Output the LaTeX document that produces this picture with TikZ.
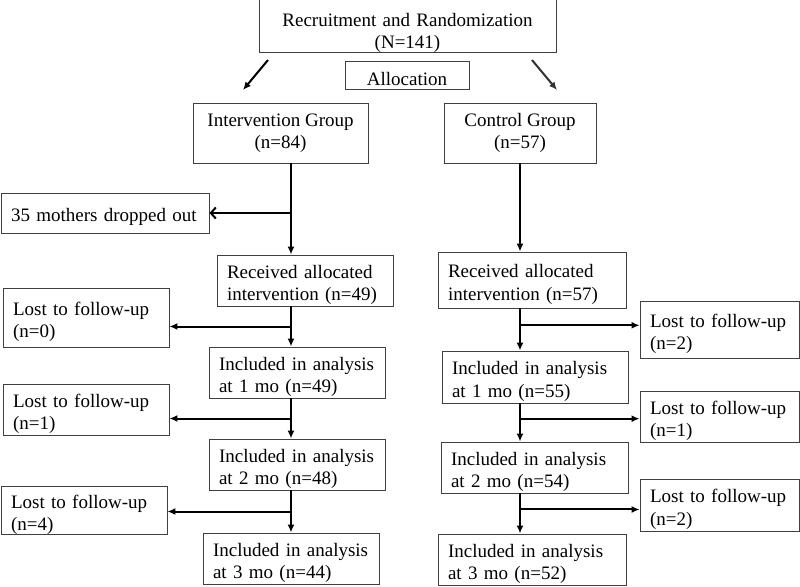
\documentclass[tikz,border=0pt]{standalone}
\usepackage{fontspec}
\setmainfont{Liberation Serif}
\usetikzlibrary{arrows.meta,calc}
\begin{document}
\begin{tikzpicture}[x=1pt,y=-1pt,
  box/.style={draw=black!75, line width=0.9pt, inner sep=0pt, font=\fontsize{19}{22.5}\selectfont,
    execute at begin node={\rule{0pt}{22pt}}},
  cbox/.style={box, align=center},
  lbox/.style={box, align=left, inner xsep=10pt},
  flow/.style={line width=2pt, -{Latex[length=8pt,width=7pt]}},
  dropflow/.style={line width=2pt, -{Straight Barb[length=5pt,width=11pt]}}]
  \useasboundingbox (0,0) rectangle (800,586);
  % top of the chart
  \node[cbox, text width=277pt, inner xsep=10pt, minimum height=50pt,
    execute at begin node={\rule{0pt}{27pt}}] (rand) at (407.5,26) {Recruitment and Randomization\\(N=141)};
  \node[cbox, minimum width=124pt, minimum height=28pt] (alloc) at (407,75) {Allocation};
  \node[cbox, minimum width=175pt, minimum height=60pt] (igrp) at (280.5,133) {Intervention Group\\(n=84)};
  \node[cbox, minimum width=152pt, minimum height=60pt] (cgrp) at (520,133) {Control Group\\(n=57)};
  % intervention arm
  \node[lbox, text width=188pt, minimum height=40pt] (idrop) at (105,213) {35 mothers dropped out};
  \node[lbox, text width=156pt, minimum height=51pt] (irec) at (305,280.5) {Received allocated\\intervention (n=49)};
  \node[lbox, text width=146pt, minimum height=59pt] (ilost0) at (86,317.5) {Lost to follow-up\\(n=0)};
  \node[lbox, text width=156pt, minimum height=51pt] (iinc1) at (297,372.5) {Included in analysis\\at 1 mo (n=49)};
  \node[lbox, text width=146pt, minimum height=51pt] (ilost1) at (86,409.5) {Lost to follow-up\\(n=1)};
  \node[lbox, text width=156pt, minimum height=51pt] (iinc2) at (297,464.5) {Included in analysis\\at 2 mo (n=48)};
  \node[lbox, text width=146pt, minimum height=45pt] (ilost4) at (84,510.5) {Lost to follow-up\\(n=4)};
  \node[lbox, text width=156pt, minimum height=51pt] (iinc3) at (291,558.5) {Included in analysis\\at 3 mo (n=44)};
  % control arm
  \node[lbox, text width=168pt, minimum height=56pt] (crec) at (532,280) {Received allocated\\intervention (n=57)};
  \node[lbox, text width=139pt, minimum height=57pt] (clost2) at (719.5,329.5) {Lost to follow-up\\(n=2)};
  \node[lbox, text width=166pt, minimum height=52pt] (cinc1) at (535,377) {Included in analysis\\at 1 mo (n=55)};
  \node[lbox, text width=139pt, minimum height=51pt] (clost1) at (719.5,416.5) {Lost to follow-up\\(n=1)};
  \node[lbox, text width=167pt, minimum height=51pt] (cinc2) at (534.5,467.5) {Included in analysis\\at 2 mo (n=54)};
  \node[lbox, text width=139pt, minimum height=52pt] (clostb) at (719.5,505) {Lost to follow-up\\(n=2)};
  \node[lbox, text width=168pt, minimum height=51pt] (cinc3) at (532,559.5) {Included in analysis\\at 3 mo (n=52)};
  % trunks and branch points
  \coordinate (ti) at (291,0);
  \coordinate (tc) at (520,0);
  \coordinate (mi1) at ($(irec.south)!0.5!(iinc1.north)$);
  \coordinate (mi2) at ($(iinc1.south)!0.5!(iinc2.north)$);
  \coordinate (mi3) at ($(iinc2.south)!0.5!(iinc3.north)$);
  \coordinate (mc1) at ($(crec.south)!0.4!(cinc1.north)$);
  \coordinate (mc2) at ($(cinc1.south)!0.4!(cinc2.north)$);
  \coordinate (mc3) at ($(cinc2.south)!0.4!(cinc3.north)$);
  % allocation arrows
  \coordinate (la) at (268,60);
  \coordinate (lb) at (243,90);
  \coordinate (ra) at (532,60);
  \coordinate (rb) at (557,90);
  \draw[flow] (la) -- (lb);
  \draw[flow, draw=black!80] (ra) -- (rb);
  % intervention arrows
  \draw[flow] (igrp.south -| ti) -- (irec.north -| ti);
  \draw[dropflow] (idrop.east -| ti) -- (idrop.east);
  \draw[flow] (irec.south -| ti) -- (iinc1.north -| ti);
  \draw[flow] (mi1 -| ti) -- (mi1 -| ilost0.east);
  \draw[flow] (iinc1.south -| ti) -- (iinc2.north -| ti);
  \draw[flow] (mi2 -| ti) -- (mi2 -| ilost1.east);
  \draw[flow] (iinc2.south -| ti) -- (iinc3.north -| ti);
  \draw[flow] (mi3 -| ti) -- (mi3 -| ilost4.east);
  % control arrows
  \draw[flow] (cgrp.south -| tc) -- (crec.north -| tc);
  \draw[flow] (crec.south -| tc) -- (cinc1.north -| tc);
  \draw[flow] (mc1 -| tc) -- (mc1 -| clost2.west);
  \draw[flow] (cinc1.south -| tc) -- (cinc2.north -| tc);
  \draw[flow] (mc2 -| tc) -- (mc2 -| clost1.west);
  \draw[flow] (cinc2.south -| tc) -- (cinc3.north -| tc);
  \draw[flow] (mc3 -| tc) -- (mc3 -| clostb.west);
\end{tikzpicture}
\end{document}
